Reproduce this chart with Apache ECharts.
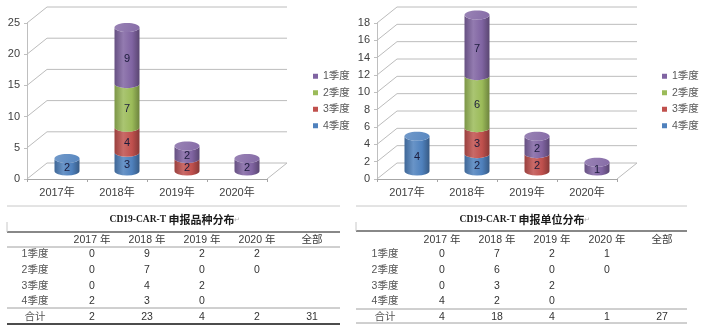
<!DOCTYPE html>
<html><head><meta charset="utf-8">
<script src="https://cdn.jsdelivr.net/npm/echarts@6/dist/echarts.min.js"></script>
<style>html,body{margin:0;padding:0;background:#fff}#c{width:701px;height:333px}</style>
</head><body><div id="c"></div>
<script>
// ---------- data ----------
const years = ['2017年', '2018年', '2019年', '2020年'];
const quarters = ['1季度', '2季度', '3季度', '4季度'];
// left chart: 申报品种分布
const varietyQ1 = [0, 9, 2, 2];
const varietyQ2 = [0, 7, 0, 0];
const varietyQ3 = [0, 4, 2, 0];
const varietyQ4 = [2, 3, 0, 0];
const varietyTicks = [0, 5, 10, 15, 20, 25];
// right chart: 申报单位分布
const unitQ1 = [0, 7, 2, 1];
const unitQ2 = [0, 6, 0, 0];
const unitQ3 = [0, 3, 2, 0];
const unitQ4 = [4, 2, 0, 0];
const unitTicks = [0, 2, 4, 6, 8, 10, 12, 14, 16, 18];
// tables
const titleLatin = 'CD19-CAR-T';
const varietyTitleCn = '申报品种分布';
const unitTitleCn = '申报单位分布';
const tableHeader = ['', '2017 年', '2018 年', '2019 年', '2020 年', '全部'];
const varietyRows = [
  ['1季度', '0', '9', '2', '2', ''],
  ['2季度', '0', '7', '0', '0', ''],
  ['3季度', '0', '4', '2', '', ''],
  ['4季度', '2', '3', '0', '', '']
];
const varietyTotal = ['合计', '2', '23', '4', '2', '31'];
const unitRows = [
  ['1季度', '0', '7', '2', '1', ''],
  ['2季度', '0', '6', '0', '0', ''],
  ['3季度', '0', '3', '2', '', ''],
  ['4季度', '4', '2', '0', '', '']
];
const unitTotal = ['合计', '4', '18', '4', '1', '27'];

// ---------- style ----------
const DX = 20, DY = -16;     // depth offset of the back wall
const BAR_W = 25, RY = 4.5;
const FONT = '"Liberation Sans","Noto Sans CJK SC",sans-serif';
const colors = { '1季度': '#8064A2', '2季度': '#9BBB59', '3季度': '#C0504D', '4季度': '#4F81BD' };

function shade(hex, f) {
  const n = parseInt(hex.slice(1), 16);
  let r = (n >> 16) & 255, g = (n >> 8) & 255, b = n & 255;
  const m = c => f >= 0 ? Math.round(c + (255 - c) * f) : Math.round(c * (1 + f));
  return 'rgb(' + m(r) + ',' + m(g) + ',' + m(b) + ')';
}

function cylRender(color) {
  return function (params, api) {
    const i = api.value(0), b = api.value(1), t = api.value(2), v = api.value(3), isTop = api.value(4);
    const pB = api.coord([i, b]), pT = api.coord([i, t]);
    const cx = pB[0] + DX / 2, yA = pB[1] + DY / 2, yB = pT[1] + DY / 2;
    const xl = cx - BAR_W / 2, xr = cx + BAR_W / 2, rx = BAR_W / 2;
    const grad = new echarts.graphic.LinearGradient(0, 0, 1, 0, [
      { offset: 0, color: shade(color, -0.2) },
      { offset: 0.35, color: shade(color, 0.15) },
      { offset: 0.7, color: shade(color, 0) },
      { offset: 1, color: shade(color, -0.3) }
    ]);
    const children = [{
      type: 'path',
      shape: { pathData: 'M' + xl + ' ' + yB + ' L' + xl + ' ' + yA + ' A' + rx + ' ' + RY + ' 0 0 0 ' + xr + ' ' + yA +
        ' L' + xr + ' ' + yB + ' A' + rx + ' ' + RY + ' 0 0 1 ' + xl + ' ' + yB + ' Z' },
      style: { fill: grad, stroke: null }
    }];
    if (isTop) {
      children.push({
        type: 'ellipse',
        shape: { cx: cx, cy: yB, rx: rx, ry: RY },
        style: { fill: new echarts.graphic.LinearGradient(0, 0, 1, 1, [
          { offset: 0, color: shade(color, 0.2) }, { offset: 1, color: shade(color, 0.05) }]) }
      });
    }
    children.push({
      type: 'text',
      style: { text: String(v), x: cx, y: (yA + yB) / 2 + RY * 0.8, align: 'center', verticalAlign: 'middle',
        fill: '#1c1c3c', font: '11px ' + FONT }
    });
    return { type: 'group', children: children };
  };
}

function wallRender(n) {
  return function (params, api) {
    const v = api.value(1);
    const p0 = api.coord([0, v]), p1 = api.coord([n - 1, v]);
    const band = api.size([1, 0])[0];
    const xl = p0[0] - band / 2, xr = p1[0] + band / 2, y = p0[1];
    const ls = { stroke: '#bcbcbc', lineWidth: 1, fill: null };
    const ch = [{ type: 'polyline', shape: { points: [[xl, y], [xl + DX, y + DY], [xr + DX, y + DY]] }, style: ls }];
    if (v === 0) ch.push({ type: 'line', shape: { x1: xr, y1: y, x2: xr + DX, y2: y + DY }, style: ls });
    return { type: 'group', children: ch };
  };
}

function buildSeries(gridIdx, qData, ticks) {
  const order = [3, 2, 1, 0]; // bottom to top: 4季度 ... 1季度
  const base = years.map(() => 0);
  const tops = years.map((_, i) => { let k = -1; order.forEach(q => { if (qData[q][i] > 0) k = q; }); return k; });
  const out = [{
    type: 'custom', xAxisIndex: gridIdx, yAxisIndex: gridIdx, silent: true, clip: false, z: 1,
    renderItem: wallRender(years.length), data: ticks.map(v => [0, v]), encode: { x: 0, y: 1 }
  }];
  order.forEach(q => {
    const data = [];
    years.forEach((_, i) => {
      const v = qData[q][i];
      if (v > 0) data.push([i, base[i], base[i] + v, v, tops[i] === q ? 1 : 0]);
      base[i] += v;
    });
    out.push({
      type: 'custom', name: quarters[q], xAxisIndex: gridIdx, yAxisIndex: gridIdx, clip: false, z: 3,
      itemStyle: { color: colors[quarters[q]] },
      renderItem: cylRender(colors[quarters[q]]), data: data, encode: { x: 0, y: 2 }
    });
  });
  return out;
}

function axesFor(max, interval) {
  return {
    x: {
      type: 'category', data: years, boundaryGap: true,
      axisLine: { lineStyle: { color: '#a6a6a6' } },
      axisTick: { show: true, length: 3, interval: 0, lineStyle: { color: '#a6a6a6' } },
      axisLabel: { color: '#404040', fontSize: 11, fontFamily: FONT, margin: 8 }
    },
    y: {
      type: 'value', min: 0, max: max, interval: interval,
      axisLine: { show: true, lineStyle: { color: '#bfbfbf' } },
      axisTick: { show: true, length: 3, lineStyle: { color: '#bfbfbf' } },
      splitLine: { show: false },
      axisLabel: { color: '#404040', fontSize: 11, fontFamily: FONT, margin: 7 }
    }
  };
}

// ---------- tables ----------
function tableGraphics(ox, titleCn, rows, total, lines, vtick) {
  const colX = [35, 92, 147, 202, 257, 312].map(x => x + ox);
  const rowY = [254, 270, 286, 301];
  const g = [];
  const txt = (s, x, y, col, font) => g.push({ type: 'text', x: x, y: y, silent: true,
    style: { text: s, align: 'center', verticalAlign: 'middle', fill: col, font: font || ('10.5px ' + FONT) } });
  g.push({ type: 'text', x: 175 + ox, y: 220, silent: true,
    style: { text: '{a|' + titleLatin + ' }{b|' + titleCn + '}{c|↵}', align: 'center', verticalAlign: 'middle',
      rich: {
        a: { fill: '#1a1a1a', fontWeight: 'bold', fontSize: 9.5, fontFamily: '"Liberation Serif",serif' },
        b: { fill: '#1a1a1a', fontWeight: 'bold', fontSize: 11, fontFamily: '"Noto Sans CJK SC",serif' },
        c: { fill: '#b0b0b0', fontSize: 7, fontFamily: FONT }
      } } });
  tableHeader.forEach((h, c) => { if (h) txt(h, colX[c], 240, '#3a3a3a'); });
  rows.forEach((r, ri) => r.forEach((s, c) => { if (s) txt(s, colX[c], rowY[ri], c === 0 ? '#555' : '#333'); }));
  total.forEach((s, c) => txt(s, colX[c], 317, c === 0 ? '#555' : '#333'));
  lines.forEach(l => g.push({ type: 'line', silent: true,
    shape: { x1: l[0] + ox, y1: l[1], x2: l[2] + ox, y2: l[1] }, style: { stroke: l[3], lineWidth: l[4] } }));
  g.push({ type: 'line', silent: true, shape: { x1: vtick[0] + ox, y1: vtick[1], x2: vtick[0] + ox, y2: vtick[2] },
    style: { stroke: '#c8c8c8', lineWidth: 1 } });
  return g;
}

const A1 = axesFor(25, 5), A2 = axesFor(18, 2);
const legendBase = {
  orient: 'vertical', icon: 'rect', itemWidth: 5, itemHeight: 5, itemGap: 6,
  data: quarters, textStyle: { fontSize: 10.5, color: '#595959', fontFamily: FONT }, selectedMode: false
};

const option = {
  animation: false,
  backgroundColor: '#fff',
  grid: [
    { left: 27, top: 23, width: 240, height: 156 },
    { left: 377, top: 23, width: 240, height: 156 }
  ],
  xAxis: [Object.assign({ gridIndex: 0 }, A1.x), Object.assign({ gridIndex: 1 }, A2.x)],
  yAxis: [Object.assign({ gridIndex: 0 }, A1.y), Object.assign({ gridIndex: 1 }, A2.y)],
  legend: [
    Object.assign({ left: 308, top: 66 }, legendBase),
    Object.assign({ left: 657, top: 66 }, legendBase)
  ],
  series: buildSeries(0, [varietyQ1, varietyQ2, varietyQ3, varietyQ4], varietyTicks)
    .concat(buildSeries(1, [unitQ1, unitQ2, unitQ3, unitQ4], unitTicks)),
  graphic: tableGraphics(0, varietyTitleCn, varietyRows, varietyTotal, [
      [7, 206, 340, '#c8c8c8', 1], [7, 232, 340, '#606060', 1.5], [7, 247, 340, '#a0a0a0', 1],
      [7, 308, 340, '#a0a0a0', 1], [7, 324, 340, '#111', 1.5]], [7, 222, 232])
    .concat(tableGraphics(350, unitTitleCn, unitRows, unitTotal, [
      [6, 206, 337, '#c8c8c8', 1], [6, 231, 337, '#606060', 1.5],
      [6, 309, 337, '#a0a0a0', 1], [6, 323, 337, '#a0a0a0', 1]], [6, 222, 231]))
};

const chart = echarts.init(document.getElementById('c'), null, { renderer: 'canvas' });
chart.setOption(option);
</script>
</body></html>
